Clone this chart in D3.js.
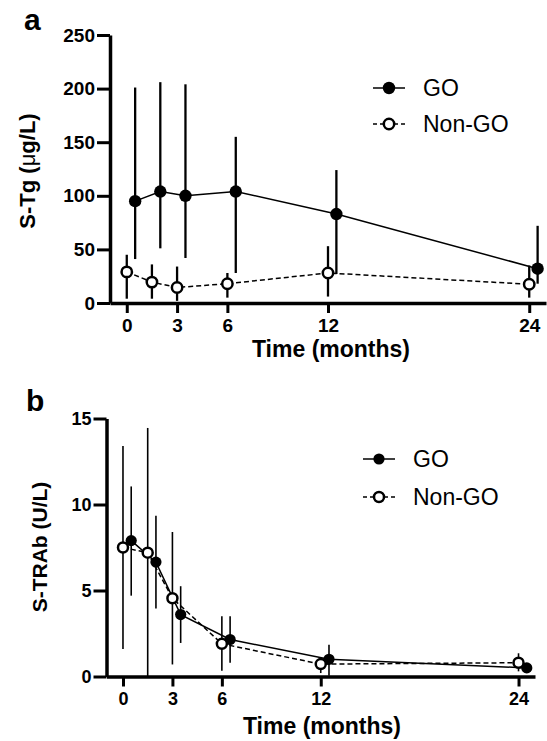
<!DOCTYPE html>
<html>
<head>
<meta charset="utf-8">
<script src="https://cdn.jsdelivr.net/npm/d3@7"></script>
<style>
  body { margin: 0; background: #fff; }
  svg { display: block; font-family: "Liberation Sans", Arial, sans-serif; }
</style>
</head>
<body>
<svg id="chart"></svg>
<script>
// time points (months); GO group is drawn shifted half a month right
const nonGoTimes = [0, 1.5, 3, 6, 12, 24];
const goTimes = [0.5, 2, 3.5, 6.5, 12.5, 24.5];
const xTicks = [0, 3, 6, 12, 24];

// panel a: S-Tg (ug/L)
const tgGO = [95, 104, 100, 104, 83, 32];
const tgGOLow = [41, 51, 42, 28, 27, 18];
const tgGOHigh = [201, 206, 204, 155, 124, 72];
const tgNon = [29, 19.5, 14.5, 18, 28, 17.5];
const tgNonLow = [4, 4, 2, 5, 6, 5];
const tgNonHigh = [45, 36, 34, 28, 53, 35];
const tgTicks = [0, 50, 100, 150, 200, 250];

// panel b: S-TRAb (U/L)
const trabGO = [7.9, 6.65, 3.6, 2.15, 1.0, 0.5];
const trabGOLow = [4.7, 3.95, 1.95, 0.8, 0.05, 0.4];
const trabGOHigh = [11.05, 9.35, 5.25, 3.5, 1.85, 0.6];
const trabNon = [7.5, 7.2, 4.55, 1.9, 0.72, 0.8];
const trabNonLow = [1.6, 0, 0.7, 0.33, 0.2, 0.3];
const trabNonHigh = [13.4, 14.45, 8.4, 3.5, 1.1, 1.35];
const trabTicks = [0, 5, 10, 15];

const seriesNames = ["GO", "Non-GO"];

const svg = d3.select("#chart").attr("width", 547).attr("height", 741);

function zip(times, vals, lo, hi) {
    return times.map((t, i) => ({ t: t, v: vals[i], lo: lo[i], hi: hi[i] }));
}

function panel(o) {
    const g = svg.append("g");
    const x = d3.scaleLinear().domain([-1, 25]).range(o.xRange);
    const y = d3.scaleLinear().domain(o.yDomain).range(o.yRange);

    // axes
    const ax = g.append("g")
        .attr("transform", `translate(0,${o.yRange[0]})`)
        .call(d3.axisBottom(x).tickValues(xTicks).tickSizeInner(10).tickSizeOuter(0).tickPadding(6));
    const ay = g.append("g")
        .attr("transform", `translate(${o.xRange[0]},0)`)
        .call(d3.axisLeft(y).tickValues(o.yTicks).tickSizeInner(13).tickSizeOuter(0).tickPadding(2));
    [ax, ay].forEach(a => {
        a.select(".domain").attr("stroke", "#000").attr("stroke-width", 3.5);
        a.selectAll(".tick line").attr("stroke", "#000").attr("stroke-width", 3);
        a.selectAll(".tick text")
            .attr("fill", "#000")
            .attr("font-family", '"Liberation Sans", Arial, sans-serif')
            .attr("font-weight", "bold")
            .attr("font-size", o.tickSize);
    });

    const groups = [
        { data: zip(goTimes, o.go, o.goLow, o.goHigh), open: false },
        { data: zip(nonGoTimes, o.non, o.nonLow, o.nonHigh), open: true }
    ];

    // error bars
    groups.forEach(s => {
        g.selectAll(null).data(s.data).enter().append("line")
            .attr("x1", d => x(d.t)).attr("x2", d => x(d.t))
            .attr("y1", d => y(d.lo)).attr("y2", d => y(d.hi))
            .attr("stroke", "#000").attr("stroke-width", o.errWidth);
    });

    // connecting lines
    const line = d3.line().x(d => x(d.t)).y(d => y(d.v));
    groups.forEach(s => {
        g.append("path").datum(s.data)
            .attr("d", line)
            .attr("fill", "none").attr("stroke", "#000").attr("stroke-width", 1.5)
            .attr("stroke-dasharray", s.open ? "5,3" : null);
    });

    // markers
    groups.forEach(s => {
        g.selectAll(null).data(s.data).enter().append("circle")
            .attr("cx", d => x(d.t)).attr("cy", d => y(d.v))
            .attr("r", s.open ? o.rOpen : o.rFill)
            .attr("fill", s.open ? "#fff" : "#000")
            .attr("stroke", "#000").attr("stroke-width", s.open ? 2.5 : 0);
    });

    // legend
    const lg = g.append("g");
    seriesNames.forEach((name, i) => {
        const ly = o.legendY[i];
        lg.append("line")
            .attr("x1", o.legendX).attr("x2", o.legendX + 32)
            .attr("y1", ly).attr("y2", ly)
            .attr("stroke", "#000").attr("stroke-width", 1.5)
            .attr("stroke-dasharray", i ? "4,3" : null);
        lg.append("circle")
            .attr("cx", o.legendX + 16).attr("cy", ly)
            .attr("r", i ? o.rOpen : o.rFill)
            .attr("fill", i ? "#fff" : "#000")
            .attr("stroke", "#000").attr("stroke-width", i ? 2.5 : 0);
        lg.append("text")
            .attr("x", o.legendX + 50).attr("y", ly + 8)
            .attr("font-size", 23)
            .text(name);
    });

    // titles
    g.append("text")
        .attr("x", o.labelPos[0]).attr("y", o.labelPos[1])
        .attr("font-size", 30).attr("font-weight", "bold")
        .text(o.label);
    g.append("text")
        .attr("x", o.xTitlePos[0]).attr("y", o.xTitlePos[1])
        .attr("text-anchor", "middle")
        .attr("font-size", 23).attr("font-weight", "bold")
        .text("Time (months)");
    const yt = g.append("text")
        .attr("transform", `translate(${o.yTitlePos[0]},${o.yTitlePos[1]}) rotate(-90)`)
        .attr("text-anchor", "middle")
        .attr("font-size", o.yTitleSize).attr("font-weight", "bold");
    o.yTitle.forEach(p => {
        yt.append("tspan").attr("font-weight", p.w).text(p.t);
    });
}

panel({
    xRange: [110, 546], yDomain: [0, 250], yRange: [303, 35], yTicks: tgTicks,
    go: tgGO, goLow: tgGOLow, goHigh: tgGOHigh,
    non: tgNon, nonLow: tgNonLow, nonHigh: tgNonHigh,
    tickSize: 19, errWidth: 2.3, rFill: 6.2, rOpen: 5.2,
    legendX: 373, legendY: [88, 124],
    label: "a", labelPos: [24, 30],
    xTitlePos: [331, 357],
    yTitlePos: [35, 171], yTitleSize: 22,
    yTitle: [{ t: "S-Tg (", w: "bold" }, { t: "\u03bc", w: "normal" }, { t: "g/L)", w: "bold" }]
});

panel({
    xRange: [106.5, 535], yDomain: [0, 15], yRange: [676.5, 418.5], yTicks: trabTicks,
    go: trabGO, goLow: trabGOLow, goHigh: trabGOHigh,
    non: trabNon, nonLow: trabNonLow, nonHigh: trabNonHigh,
    tickSize: 18, errWidth: 1.6, rFill: 5.6, rOpen: 5,
    legendX: 363, legendY: [459, 497],
    label: "b", labelPos: [26, 411],
    xTitlePos: [322, 734],
    yTitlePos: [47, 547], yTitleSize: 21,
    yTitle: [{ t: "S-TRAb (U/L)", w: "bold" }]
});
</script>
</body>
</html>
